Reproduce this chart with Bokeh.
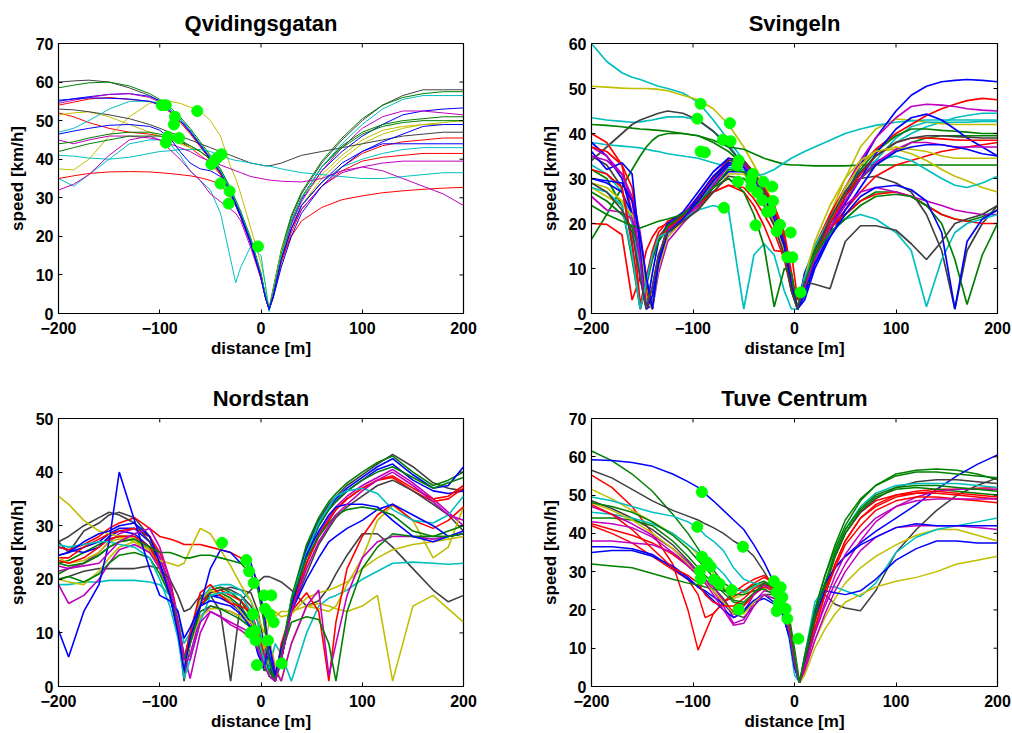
from bokeh.plotting import figure
from bokeh.models import FixedTicker, Range1d
from bokeh.layouts import column, row
from bokeh.embed import file_html
from bokeh.resources import INLINE

# ---------------- data ----------------
MATLAB = {"b": "#0000ff", "g": "#008000", "r": "#ff0000", "c": "#00bfbf",
          "m": "#bf00bf", "y": "#bfbf00", "k": "#404040"}

# Qvidingsgatan
qv_x = [-200, -185, -170, -150, -130, -110, -100, -90, -80, -70, -60, -50, -40, -30, -25, -20, -10, 0, 4, 8,
        12, 20, 30, 40, 60, 80, 100, 120, 140, 160, 180, 200]
qv_colors = ["k", "g", "b", "m", "r", "r", "y", "y", "k", "c", "c", "r", "m", "m", "g", "g", "b", "c", "b"]
qv_speed = [
    [60, 60.3, 60.5, 60, 58.5, 56.5, 55, 53, 50.5, 47.5, 44, 40.5, 37, 32, 29, 26, 19, 10, 5, 1, 6, 16, 25, 31, 39, 45, 50, 54, 56.5, 58, 58, 58],
    [58.5, 59.2, 59.8, 60, 59, 57, 55.5, 53.5, 51, 48, 44.5, 41, 37.5, 32.5, 29.5, 26.5, 19.5, 10.5, 5, 1.5, 6.5, 16.5, 25.5, 31.5, 39.5, 45.5, 50.5, 54, 56, 57, 57.5, 57.5],
    [55, 55.7, 56.2, 56.8, 57, 56.3, 55.2, 53, 50.5, 47.3, 43.8, 40.3, 36.8, 31.8, 28.8, 25.8, 18.8, 9.8, 5, 1, 5.5, 15, 23.5, 29.5, 37, 42, 46, 49, 51.5, 52.5, 53, 53.3],
    [54.5, 55.3, 56, 56.8, 57, 56, 54.8, 52.6, 50, 47, 43.5, 40, 36.5, 31.5, 28.5, 25.5, 18.5, 9.5, 4.5, 1, 5, 14.5, 23, 29, 37, 43, 48, 51, 52.5, 52.5, 52, 51.5],
    [54, 54.8, 55.6, 56, 55.5, 55, 54, 52.2, 49.6, 46.6, 43.2, 39.7, 36.2, 31.2, 28.2, 25.2, 18.2, 9.2, 4.5, 1, 4.5, 14, 22, 28, 34, 38, 41.5, 43.5, 44.5, 45, 45.5, 45.5],
    [52, 51, 49.5, 48, 47, 46.5, 46, 45.3, 44.5, 43, 41, 39, 36, 31, 28, 25, 18, 9, 4.5, 1, 4, 13, 21, 27, 33, 37, 39.5, 40.5, 41, 41.5, 41.5, 41.5],
    [37.5, 37.2, 40, 46, 51, 54.5, 55, 55, 54.5, 53.5, 52.5, 50, 46, 38, 35, 31, 22, 13, 8, 1, 6, 16, 24, 30, 36, 41, 45, 47.5, 48.5, 49, 49, 49],
    [51.5, 52, 52.3, 51, 49, 47, 46, 45, 44, 43, 42, 40, 37, 32, 29, 26, 19, 10, 5, 1, 5, 14, 22, 28, 35, 40, 44, 46.5, 48, 49, 49.5, 50],
    [53, 52.8, 52.3, 51.5, 50.5, 49, 48, 47, 46, 45, 44, 43, 42, 41, 40.5, 40, 39, 38.5, 38.3, 38.3, 38.5, 39, 40, 41, 42, 43, 44, 45, 46, 46.5, 47, 47],
    [41, 40.8, 40.3, 40, 40.5, 41.5, 42, 42.2, 42.5, 42.5, 42.5, 42, 41, 40, 39.7, 39.5, 39, 38.5, 38.3, 38.2, 38, 37.5, 37, 36.5, 36, 35.5, 35, 35, 35.5, 36, 36.5, 36.5],
    [35, 33, 36, 40, 44, 45, 45, 44, 41, 37, 34.5, 32, 26, 14, 8, 12, 17.5, 15, 8, 0.5, 5, 14, 22, 28, 34, 38, 40, 41.5, 42.5, 43, 43, 43],
    [35, 35.7, 36.3, 36.7, 36.8, 36.7, 36.5, 36.3, 36, 35.7, 35.2, 34.5, 33.5, 30, 28, 25, 18, 9, 4.5, 1, 4.5, 14, 20, 24, 27.5, 29.5, 30.5, 31.3, 31.8, 32.2, 32.5, 32.7],
    [32, 33.5, 36, 41, 45, 46, 45, 42.5, 40, 37, 34.5, 31, 29, 27, 26, 24, 17, 9, 4.5, 1, 5, 14, 22, 27, 33, 36.5, 38, 39, 39.5, 39.5, 39.5, 39.5],
    [45, 44, 45, 46, 46, 45.5, 45, 44, 43, 42, 40.5, 39.5, 38.5, 37.5, 37, 36.5, 35.5, 35, 34.8, 34.6, 34.5, 34.3, 34.2, 34.1, 35, 37, 38, 37, 35, 33, 31, 28],
    [44, 44.5, 45.5, 46.5, 47, 47, 46.5, 46, 45, 43.5, 42, 40, 37, 32, 29, 26, 19, 10, 5, 1, 5, 15, 24, 30, 38, 43.5, 47, 49, 50, 50.5, 51, 51],
    [42, 43, 44, 45, 46, 46, 46, 45.5, 44.5, 43.5, 42, 40, 37, 32, 29, 26, 19, 10, 5, 1, 5, 15, 24, 30, 38, 43, 46.5, 48.5, 49.5, 50, 50, 50],
    [46.5, 47.3, 48, 48.8, 49, 48.5, 47.5, 45.5, 42, 39, 37.5, 37, 35.5, 31, 28, 25, 18, 9.5, 4.5, 1, 4, 12, 20, 26, 33, 38, 42, 44, 44, 44, 44, 44],
    [47, 48, 50, 53, 55, 55, 54.5, 53, 50.5, 47.5, 44, 40.5, 37, 32, 29, 26, 19, 10, 5, 1, 5, 15, 24, 30, 38, 44, 49, 53, 55.5, 56.5, 56.5, 56.5],
    [55.3, 55.6, 55.9, 55.8, 55.6, 55, 54.2, 52.5, 50, 47, 43.6, 40, 36.5, 31.5, 28.5, 25.5, 18.5, 9.5, 4.5, 1, 4.5, 14, 22, 28, 34, 39, 42, 44.5, 46.5, 48.5, 49, 49],
]
qv_dot_x = [-98, -94, -85, -86, -63, -92, -94, -81, -39, -43, -46, -49, -40, -31, -32, -3]
qv_dot_y = [54, 54, 51, 49, 52.5, 45.8, 44.3, 45.5, 41.3, 40.4, 39.6, 38.7, 33.7, 31.7, 28.5, 17.4]

# Svingeln
sv_x = [-200, -185, -170, -160, -152, -146, -140, -134, -125, -110, -95, -80, -65, -50, -40, -30, -20, -10, -3,
        3, 10, 20, 35, 50, 65, 80, 100, 115, 130, 145, 158, 170, 185, 200]
sv_colors = ["c", "y", "c", "k", "g", "c", "g", "r", "r", "b", "m", "g", "y", "c", "b", "m", "r", "k",
             "g", "y", "b", "r", "m", "c", "g", "b", "k"]
sv_speed = [
    [60, 56, 53.5, 52.5, 52, 51.5, 51, 50.5, 50, 49, 47, 43, 38.5, 34, 31, 27, 22, 15, 6, 1, 7, 13, 20, 26, 31, 35, 38, 40, 41.5, 42.5, 43.5, 44, 44.5, 44.5],
    [50.5, 50.3, 50.1, 50, 50, 50, 49.9, 49.8, 49.5, 48.5, 47.5, 45.5, 42, 37, 33, 29, 24, 17, 7, 1, 6, 13, 22, 30, 37, 41, 43.2, 43, 42.5, 42.2, 42, 42, 42, 42],
    [43.5, 43, 42.7, 42.5, 42.6, 42.8, 43, 43.3, 43.7, 43.7, 43, 40.5, 37.5, 33, 30, 27, 22, 15, 6, 1, 6, 12, 19, 25, 30, 34, 39, 41.5, 42.5, 42.5, 42.5, 42.5, 42.7, 42.7],
    [34, 37, 40, 42, 43, 43.5, 44, 44.5, 45, 44.5, 43, 40.5, 37, 33, 30, 27, 22, 15, 6, 1, 7, 14, 22, 27, 30, 30.5, 29, 27, 22, 14, 1, 14, 20, 24],
    [42, 41.8, 41.5, 41.2, 41, 40.9, 40.8, 40.7, 40.5, 40, 39.5, 38.5, 37, 36.5, 35.5, 34.5, 33.8, 33.2, 33, 33, 32.9, 32.8, 32.8, 32.8, 33, 33, 33, 33, 33, 33, 33, 33, 33, 33],
    [38, 37.5, 37.2, 37, 36.8, 36.5, 36.2, 36, 35.5, 35, 34.5, 33.5, 32.5, 31.5, 30.5, 31, 32, 33.5, 34.5, 35.2, 36, 37, 38.5, 40, 41, 41.8, 42.5, 42.8, 43, 43, 43, 43, 43, 43],
    [16.5, 22, 28, 32, 35, 37, 38.5, 39.5, 40, 40, 39.5, 38, 36, 33, 30, 27, 22, 15, 6, 1, 6, 12, 20, 26, 30, 33, 36, 38, 39, 39.5, 39.5, 39.5, 39.5, 39.5],
    [20, 19.8, 17.5, 3, 8, 14, 17, 19, 20, 21, 24, 27, 28.5, 27, 24, 19.5, 14, 13.7, 13.5, 3, 6, 12, 19, 23, 27, 30.5, 33, 34, 35, 36, 36.5, 37, 37.5, 38],
    [40, 38, 33, 22, 2, 8, 14, 18, 20.5, 22, 25.5, 30, 34.5, 34, 31, 28, 24, 18, 9, 1, 8, 15, 22, 28, 33, 36.5, 40, 42, 44, 45.5, 46.5, 47.3, 47.8, 47.5],
    [38, 35, 30, 22, 8, 1, 9, 16, 20, 22.5, 27, 31.5, 34.5, 33.5, 30.5, 27, 22.5, 16, 7, 1, 5, 11, 18, 26, 33, 39, 45, 48.5, 50.5, 51.5, 51.8, 52, 51.8, 51.5],
    [37, 35, 31, 26, 18, 8, 1, 12, 19.5, 22, 26, 30.5, 34, 33.5, 31, 27.5, 23, 17, 8, 1, 7, 14, 21, 28, 34, 39, 43.5, 46, 46.5, 46.3, 46, 45.5, 45.2, 45],
    [32, 30, 24, 12, 1, 6, 12, 16, 19, 21.5, 25, 29.5, 33.5, 33, 30, 27, 22, 16, 7, 1, 7, 14, 21, 27, 32, 36, 39.5, 41, 41, 40.7, 40.5, 40.3, 40, 40],
    [29, 28, 25, 21, 14, 5, 1, 11, 19, 21, 24, 28, 32, 32, 29.5, 26, 21.5, 15, 6, 1, 8, 15, 21, 28, 33, 36, 36.5, 35.5, 34, 32, 30.5, 29.5, 28, 27],
    [33, 31, 27, 20, 9, 2, 4, 12, 18, 21, 24.5, 29, 32.5, 32, 29, 25.5, 21, 15, 6, 1, 9, 15, 21, 27, 31.5, 34, 35, 34, 32, 30, 28.5, 28, 29, 30.5],
    [30, 29, 27, 22, 12, 1, 2, 10, 17, 21, 23, 28, 31.5, 31.5, 29, 25, 20.5, 14.5, 6, 1, 9, 14, 20, 24.5, 30, 35.5, 41, 43.5, 44.3, 43, 41, 39, 37, 35],
    [26, 23, 22.5, 21, 12, 3, 1, 9, 16, 20, 23.5, 28.5, 33, 32.5, 29.5, 26, 21.5, 15.5, 7, 1, 7, 13, 20, 25, 30, 33.5, 36.5, 38, 38, 37.5, 37, 37, 37, 37],
    [37, 36, 33, 28, 16, 5, 1, 12, 19, 21.5, 25, 29.5, 34, 34, 31.5, 28, 23, 17, 8, 1, 6, 13, 20, 26, 31, 35, 38, 39, 39, 38.8, 38.6, 38.5, 38.5, 38.5],
    [35, 33, 28, 15, 1, 7, 13, 17, 19.5, 22, 25, 29.5, 34, 34, 31, 27.5, 22.5, 16, 7, 1, 7, 14, 21, 27, 31.5, 35, 38, 39, 39.5, 39.5, 39.3, 39.2, 39, 39],
    [27, 25, 22, 19, 14, 7, 1, 12, 19.5, 21.5, 24, 28, 32, 31.5, 28.5, 25, 20, 13, 5, 1, 8, 14, 19, 22, 25, 27, 27, 26, 24, 22, 21, 20.5, 21.5, 23],
    [28, 26, 24, 22, 17, 3, 1, 10, 17, 20.5, 23, 27, 31, 31, 28.5, 25, 20.5, 14, 6, 1, 8, 16, 24, 30, 34, 36, 37, 36.5, 36, 35, 34.5, 34.5, 34.5, 34.5],
    [36, 32, 33.5, 31, 14, 1, 4, 12, 18, 21, 26, 30.5, 33.5, 33, 30, 26.5, 22, 15.5, 6, 1, 3, 10, 17, 23, 28, 33, 36, 37, 37.5, 37.5, 37, 36.5, 35.5, 35],
    [32, 31, 28, 16, 1, 7, 13, 17, 18.5, 21.5, 24, 27, 28.5, 28, 25.5, 22, 18, 12, 5, 1, 6, 13, 19, 22, 25, 26.5, 27, 26, 24, 22, 21, 20.5, 20, 20],
    [35, 34, 31, 25, 12, 1, 6, 13, 18.5, 21, 24, 28.5, 33, 33, 30, 26.5, 21.5, 15, 6, 1, 6, 12, 19, 24, 27, 28, 27, 26, 25, 24, 23, 22.5, 22, 22],
    [28, 27, 24, 13, 1, 7, 13, 17, 18, 21, 23, 24, 23, 1, 13, 15.5, 13, 5, 1, 1, 8, 13, 18, 21, 22, 21, 18, 14, 1.5, 12, 18, 20, 21, 22],
    [24, 22, 20.5, 19.5, 19, 19.5, 20, 20.5, 21, 22, 24.5, 28, 30, 27, 22, 15, 1.5, 10, 9, 1, 7, 13, 18, 21, 24, 26, 26.5, 26, 24, 20, 12, 2, 13, 20],
    [30, 29.5, 29, 25, 17, 8, 1, 11, 18, 21, 25, 29.5, 33, 32.5, 29.5, 26, 21, 15, 6, 1, 4, 11, 17, 22, 26, 28, 28.5, 27.5, 25, 18, 1, 16, 21, 23],
    [29, 27, 23, 18, 8, 1, 6, 13, 18, 20.5, 23, 27, 30.5, 30, 27.5, 24, 19.5, 13, 5, 1, 7, 6.5, 5.5, 16, 19.5, 19.5, 18.5, 15.5, 12, 16, 20, 21, 22, 24],
]
sv_dot_x = [-92.5, -95.8, -63.6, -70.5, -62.9, -92.5, -88.3, -55, -56.4, -55.7, -41.2, -43.2, -42.6, -30.7,
            -21.9, -36.6, -31.7, -21.2, -26.8, -23.5, -69.5, -38.3, -14.3, -17.6, -3.8, -7.1, -2.1, 6.1]
sv_dot_y = [46.6, 43.3, 42.3, 38.6, 38.3, 36, 35.8, 34, 32.9, 29.3, 31, 29.7, 28.2, 29.3,
            28.2, 26.9, 25.2, 25, 22.6, 22.8, 23.5, 19.6, 19.7, 18.3, 18, 12.5, 12.5, 4.7]

# Nordstan
ns_x = [-200, -190, -175, -160, -150, -140, -125, -110, -100, -90, -82, -76, -70, -60, -50, -40, -30, -20, -10, -3,
        3, 8, 14, 20, 30, 45, 57, 67, 74, 85, 100, 115, 130, 150, 170, 185, 200]
ns_colors = ["k", "g", "b", "b", "g", "m", "r", "r", "k", "k", "c", "y", "y", "y", "r", "m", "g", "c",
             "b", "b", "g", "m"]
ns_speed = [
    [27, 25, 29, 30.5, 32, 32.5, 31.5, 28, 24, 19, 13, 5, 10, 16.5, 18, 18.5, 18, 17, 15, 12, 6, 3, 1, 5, 16, 26, 31, 34, 35.5, 37.5, 39.5, 41.5, 43.3, 41, 38, 37, 36.5],
    [23, 23.5, 25, 26.5, 27.5, 28, 28, 26, 22.5, 18, 12, 4, 9, 16, 18, 18.5, 17.5, 16, 13, 9, 5, 2, 1, 6, 16.5, 26.5, 31.5, 34.5, 36, 38, 40, 41.8, 43, 40, 37.5, 38.5, 40],
    [24.5, 25, 26, 27, 28.5, 29.5, 29.5, 27, 23, 18, 11, 2.5, 8, 15, 17, 17, 16, 14.5, 12, 8, 4, 6, 1, 5, 15.5, 25.5, 30.5, 33.5, 35, 37, 39, 41, 42.5, 39.5, 37, 37.5, 41],
    [26, 25.5, 25, 26, 28, 29, 28.5, 26, 22, 17, 10, 3, 9, 16, 17, 16.5, 15.5, 14, 11, 7, 3, 4, 1, 5, 15, 24.5, 30, 33, 34.5, 36.5, 38.5, 40.5, 41.5, 38.5, 36.5, 36, 36.5],
    [21, 22, 23, 24.5, 26, 27, 27.5, 25.5, 22, 17, 11, 4, 8, 15, 17, 17.5, 16.5, 15, 12, 8, 3, 3, 1, 6, 15.5, 25, 30, 33, 34.5, 36.5, 38.5, 40, 41, 39, 37, 38, 39],
    [21.5, 22, 23, 25, 27, 28.5, 29.5, 28, 24, 19, 12, 4, 6, 13, 15, 14.5, 14, 13, 12, 8, 5, 9, 2, 5, 14, 23, 28.5, 31.5, 33.5, 35.5, 37.5, 39, 40.5, 38, 35, 32.5, 30],
    [26, 25.5, 26.5, 28, 29.5, 30.5, 31.5, 29.5, 28, 27.5, 27, 26.5, 26.5, 26.5, 26, 25.5, 25, 24, 22, 19.5, 12, 5, 1, 5, 14, 23, 28, 31, 33, 35, 37, 38.5, 39.3, 37, 35, 35.5, 37.5],
    [24, 24, 26, 27.5, 28.5, 29, 29.5, 28, 25, 20, 13, 5, 9, 15, 17.5, 18, 17, 16, 14, 10, 6, 3, 1, 6, 15, 23, 28, 31, 33, 35, 37, 38.5, 39, 36.5, 34.5, 35, 37],
    [27, 28, 30, 31.5, 32.5, 32, 30.5, 27, 22.5, 17, 11, 1, 8, 16, 17.5, 18, 18.5, 18, 17.5, 14, 8, 3, 1, 5, 14, 21, 26.5, 29.5, 31.5, 33.5, 35.5, 37.5, 38.5, 36.5, 34, 32, 29],
    [20, 20.5, 21.5, 22, 22, 22, 22, 22.5, 22, 20, 17, 14, 14.5, 17, 17, 14, 1, 16, 18, 19.5, 20.5, 20.5, 20, 19.5, 18, 15, 16, 18.5, 21, 24.5, 28.5, 28.5, 26, 22, 18, 15.8, 17],
    [19, 19, 19.5, 19.5, 19.8, 19.8, 19.8, 19.5, 19, 17, 14, 8, 10, 16, 18.5, 19, 19, 18, 16, 12, 7, 3, 8, 6, 1, 10, 15, 16.5, 17, 18, 20, 21.5, 23, 23.2, 23, 22.8, 23],
    [35.5, 34, 31, 29, 28.5, 28, 27, 25, 23.5, 23, 22.5, 23, 25.5, 29.5, 28.5, 25.5, 22.5, 19, 16, 13, 10, 14, 14, 13, 13.5, 16.5, 17.5, 18, 18.5, 19.5, 22, 24, 25.5, 26.5, 27, 27.5, 28],
    [20, 19.5, 19, 21.5, 24, 26, 27, 25.5, 22, 18, 13, 4, 8, 13, 14.5, 14.5, 14, 13, 12, 10, 7, 12, 13, 14, 14, 15, 15.5, 15, 14.5, 14, 15, 17, 1, 15, 17, 14.5, 12],
    [24, 23, 23.5, 25, 27, 27.5, 27.5, 26, 22, 17, 11, 3, 8, 16, 18, 17, 16, 14, 11, 7, 4, 9, 4, 1, 8, 15, 14.5, 14, 15, 19, 24, 31, 33.8, 31, 24, 26, 33.5],
    [23.5, 23, 24, 26, 27.5, 28, 28, 26, 22.5, 18, 11, 5, 10, 17.5, 19, 17, 15.5, 15, 14, 10, 6, 2, 1, 8, 14, 17.5, 14, 1, 12, 22, 28, 32, 34, 31, 29.5, 31, 33.5],
    [19, 15.5, 17, 20, 23, 25.5, 26.5, 25, 22, 18, 12, 6, 1.5, 10, 14, 13, 12, 11, 10, 8, 5, 8, 3, 1, 8, 15, 18, 2, 8, 17, 24, 27, 28, 28, 27.5, 28, 28.5],
    [20, 20.5, 19.5, 21, 23, 24.5, 25, 24, 21, 17, 12, 5, 8, 14, 15, 14.5, 13.5, 12.5, 11, 8, 5, 3, 1, 6, 12, 13, 12.5, 8, 1, 14, 22, 26, 28.5, 28, 28, 29, 30],
    [26.5, 26, 26.5, 27, 27, 26.5, 26, 24, 20, 15, 9, 1.5, 5, 12, 17, 17.5, 17.5, 17, 14, 9, 5, 2, 1, 6, 16, 25, 30.5, 33.5, 35.5, 36.5, 37, 36, 33, 31, 30.5, 32, 35.5],
    [10.5, 5.5, 14, 19, 27, 40, 31, 22, 17, 16, 14, 9, 11, 15, 16, 15.5, 15, 13.5, 11, 6, 3.5, 8, 2, 7, 14, 20, 24, 27, 28, 29.5, 31, 33, 34, 32, 30, 28, 28.5],
    [24.5, 25, 27, 28.5, 29, 30, 30.5, 28, 23, 17, 10, 3, 9, 15, 22, 25.5, 25, 23, 23, 19, 14, 6, 1, 5, 15, 24.5, 29, 32, 33.5, 34, 34, 33.5, 31, 28, 27, 28, 29],
    [23, 22.5, 23, 24.5, 26, 27, 27.5, 26, 25, 25, 24.5, 24, 24, 24.5, 24.5, 24, 23.5, 23, 21, 18, 12, 5, 1, 6, 16, 24, 28, 30.5, 32, 33, 33.5, 33, 32, 29, 28, 28, 28.5],
    [22.5, 22, 22.5, 23, 25, 27, 28.5, 29.5, 26, 20, 12, 5, 5, 12, 14, 13, 11.5, 10.5, 9, 7, 4, 2, 1, 5, 14, 22, 27, 30, 32, 34, 36.5, 38.5, 40, 37.5, 34.5, 32, 31],
]
ns_dot_x = [-38.5, -14.5, -11.8, -7.2, 3, 10.2, 4, -7.9, 8.6, 12.5, -6.2, -10.5, -5.3, 6.9, -4, 20.4]
ns_dot_y = [26.8, 23.6, 21.5, 19.3, 17, 17, 14.5, 13.5, 13.5, 12, 10.4, 10, 8.6, 8.6, 4, 4.3]

# Tuve Centrum
tc_x = [-200, -180, -160, -140, -120, -105, -95, -88, -80, -70, -60, -50, -40, -30, -20, -12, -5, 0, 5, 10,
        20, 30, 40, 50, 65, 80, 100, 120, 140, 160, 180, 200]
tc_colors = ["g", "b", "k", "r", "r", "y", "c", "k", "c", "g", "m", "r", "m", "b", "b", "g", "y", "r", "m", "g"]
tc_speed = [
    [61.5, 59, 55.5, 51, 45, 40, 36, 33, 30.5, 27, 25.5, 25, 26.5, 27.5, 26, 23, 18, 10, 1, 7, 20, 29, 36, 42, 48.5, 52.5, 55.5, 56.5, 56.8, 56.5, 55.5, 54],
    [59.2, 59, 58.5, 57.5, 55.5, 53.5, 52, 50.3, 48.5, 46, 43.5, 41, 37, 32.5, 27, 22, 15, 7, 1, 6, 18, 26, 31, 34, 37.5, 40.5, 44, 47.5, 51.5, 55, 58, 60.5],
    [56.5, 54.5, 51.5, 48.5, 46, 44.5, 43.5, 42.5, 41.5, 40, 38, 36.5, 34, 30, 25.5, 21, 14, 6, 1, 8, 19, 24, 21.5, 20.5, 19.8, 25, 35, 41, 46, 50, 52.5, 54.5],
    [55.2, 52, 47, 40, 32, 20, 9.5, 14, 19, 22, 23.5, 25, 27, 28.5, 27, 24, 17, 8, 1, 5, 15, 24, 32, 38, 44, 47.5, 50, 51, 51.5, 51.5, 51.8, 52],
    [42, 40, 37.5, 34, 30.5, 28, 24, 18, 19, 22, 24.5, 26.5, 28, 29, 27, 24, 17, 8, 1, 6, 17, 26, 34, 40, 45.5, 48.5, 50, 50.5, 50.5, 50, 49.5, 49],
    [51.5, 49, 46, 43, 40, 37, 34.5, 32, 29.5, 26, 23, 24, 26, 27, 25, 22, 16, 8, 1, 4, 12, 18, 23, 27, 31, 34, 37, 39.5, 41, 41, 39.5, 38],
    [49.5, 48.5, 47, 45.5, 44.5, 43, 41.5, 39.5, 38, 35.5, 31, 28, 27, 26.5, 24.5, 20, 12, 3, 1, 8, 22, 26, 26, 25, 23.5, 27, 35, 39, 41, 42, 43, 44],
    [48.5, 46.5, 44, 41, 37, 33, 30, 28, 26, 23, 19, 18, 21, 24, 24, 22, 16, 8, 1, 6, 17, 26, 34, 40, 45.5, 49, 52, 53.5, 54, 54, 53.5, 53],
    [45.5, 45, 44, 42.5, 40, 37, 35, 33.5, 32, 29.5, 26, 24.5, 26, 27, 25.5, 22.5, 16, 8, 1, 7, 17, 27, 35, 41, 47, 50.5, 52.5, 53, 53, 53, 52.5, 52],
    [44, 44, 43.5, 42, 38, 34, 31, 29, 27, 24.5, 22, 21.5, 24, 27, 25.5, 23, 16, 7, 1, 6, 17, 26, 34, 40, 46, 49.5, 51.5, 52, 51.5, 51, 50.5, 50],
    [47, 45, 42.5, 39.5, 36, 32.5, 30, 28, 25, 21, 16.5, 17.5, 22, 25, 24.5, 22, 15, 7, 1, 5, 14, 21, 27, 32, 38, 43, 47, 49.5, 51, 51.5, 51.5, 51.5],
    [42.5, 41, 39.5, 37.5, 34.5, 31.5, 29, 27, 25, 22, 19.5, 21, 24, 26, 25, 22.5, 15, 6, 1, 6, 17, 25, 32, 38, 44, 47, 49.5, 50.5, 51, 50.5, 50, 49.5],
    [38, 38, 37.5, 37, 35, 32, 30, 28, 26, 22.5, 18, 19.5, 24, 26.5, 25.5, 23, 16, 7, 1, 4, 12, 19, 25, 30, 35.5, 39, 41.5, 42, 42, 42, 41.5, 41],
    [36.5, 36.5, 36, 34.5, 31, 28, 26, 25, 23.5, 21.5, 19, 20, 22.5, 24, 22, 19, 13, 5, 1, 7, 19, 27, 31, 34, 37, 39, 41.5, 42.5, 42, 42, 42, 42],
    [35, 35.5, 35.5, 34, 31.5, 28.5, 26, 24.5, 22.5, 20, 18, 19.5, 22, 23, 21.5, 19, 13, 5, 1, 6, 18, 25, 24.5, 24, 25, 28, 33, 36, 38, 38, 37.5, 37.5],
    [32, 31.5, 31, 29.5, 28, 27, 26.5, 26, 25.5, 25, 24, 24, 25, 25.5, 24, 21, 14, 6, 1, 7, 18, 27, 35, 41, 46.5, 50, 52, 52.5, 52.5, 52, 51.5, 51],
    [48, 46, 43.5, 40, 36, 32, 29, 27, 25, 22, 19, 19, 22, 24, 23, 21, 15, 7, 1, 3, 10, 15, 19, 22, 24, 26, 27.5, 28.5, 30, 32, 33, 34],
    [47.5, 45, 41, 36, 31, 29, 27, 24, 22, 21, 21, 23, 25.5, 27, 25.5, 22, 15, 7, 1, 5, 15, 24, 31, 37, 42, 46, 48.5, 49.5, 49.5, 49, 48.5, 48],
    [43, 42.5, 41.5, 39, 35, 31.5, 29, 27, 24, 20, 16, 16.5, 21, 24, 23, 21, 14, 6, 1, 5, 14, 22, 29, 34.5, 40, 44, 47, 48.5, 49, 49, 49, 49],
    [48, 47, 45.5, 43, 39.5, 36, 33, 31, 28.5, 25.5, 22.5, 22, 24.5, 27, 26, 23.5, 17, 8, 1, 8, 20, 29, 37, 43.5, 49, 52.5, 55, 56, 56, 55.5, 55, 54.5],
]
tc_dot_x = [-91.2, -95.8, -50.8, -91.2, -86, -82.7, -93.2, -92.5, -79.4, -73.8, -62, -55, -20.2, -13.6,
            -17.6, -12, -15.6, -17.6, -8.7, -7.1, 3.8]
tc_dot_y = [50.8, 41.7, 36.5, 33.9, 32.4, 31.3, 30.2, 28.1, 27.9, 26.8, 25.2, 20.1, 27.5, 25.9,
            24.6, 23.3, 21.8, 19.7, 20.3, 17.7, 12.5]

x_ticks = [-200, -100, 0, 100, 200]

FONT = "Liberation Sans"
FRAME_W = 405
FRAME_H = 270
TICK_PX = 4


def make_panel(title, xs, speeds, colors, dx, dy, ymax, lw, width, height, bl, br, bt, bb):
    p = figure(width=width, height=height, output_backend="svg", toolbar_location=None,
               x_range=Range1d(-200, 200), y_range=Range1d(0, ymax),
               min_border_left=bl, min_border_right=br, min_border_top=bt, min_border_bottom=bb,
               background_fill_color="white", border_fill_color="white")
    p.title.text = title
    p.title.text_font = FONT
    p.title.text_font_style = "bold"
    p.title.text_font_size = "22px"
    p.title.align = "center"
    p.title.text_color = "black"
    p.title.standoff = 16
    p.outline_line_color = "black"
    p.outline_line_width = 1.2
    p.xgrid.visible = False
    p.ygrid.visible = False
    for ys, c in zip(speeds, colors):
        assert len(ys) == len(xs)
        p.line(xs, ys, line_color=MATLAB[c], line_width=lw)
    p.scatter(dx, dy, size=11, fill_color="#00ff00", line_color="#00ff00")

    yt = list(range(0, ymax + 1, 10))
    for ax, ticks in ((p.xaxis[0], x_ticks), (p.yaxis[0], yt)):
        ax.ticker = FixedTicker(ticks=ticks)
        ax.major_tick_in = TICK_PX
        ax.major_tick_out = 0
        ax.minor_tick_line_color = None
        ax.axis_line_color = "black"
        ax.major_tick_line_color = "black"
        ax.major_label_text_font = FONT
        ax.major_label_text_font_style = "bold"
        ax.major_label_text_font_size = "16px"
        ax.major_label_text_color = "black"
        ax.axis_label_text_font = FONT
        ax.axis_label_text_font_style = "bold"
        ax.axis_label_text_font_size = "17px"
        ax.axis_label_text_color = "black"
    p.xaxis.axis_label = "distance [m]"
    p.yaxis.axis_label = "speed [km/h]"
    p.xaxis.major_label_standoff = 8
    p.xaxis.axis_label_standoff = 2
    p.yaxis.major_label_standoff = 5
    p.yaxis.axis_label_standoff = 6

    # inward ticks on the top and right edges of the box (MATLAB "box on")
    dy_tick = ymax * TICK_PX / FRAME_H
    dx_tick = 400 * TICK_PX / FRAME_W
    p.segment(x0=x_ticks, y0=[ymax] * len(x_ticks), x1=x_ticks, y1=[ymax - dy_tick] * len(x_ticks),
              line_color="black", line_width=1)
    p.segment(x0=[200] * len(yt), y0=yt, x1=[200 - dx_tick] * len(yt), y1=yt,
              line_color="black", line_width=1)
    return p


p1 = make_panel("Qvidingsgatan", qv_x, qv_speed, qv_colors, qv_dot_x, qv_dot_y, 70, 1.0,
                520, 366, 58, 57, 43, 53)
p2 = make_panel("Svingeln", sv_x, sv_speed, sv_colors, sv_dot_x, sv_dot_y, 60, 1.7,
                492, 366, 71, 15, 43, 53)
p3 = make_panel("Nordstan", ns_x, ns_speed, ns_colors, ns_dot_x, ns_dot_y, 50, 1.6,
                520, 367, 58, 57, 52, 45)
p4 = make_panel("Tuve Centrum", tc_x, tc_speed, tc_colors, tc_dot_x, tc_dot_y, 70, 1.5,
                492, 367, 71, 15, 52, 45)

layout = column(row(p1, p2), row(p3, p4))
open("out.html", "w").write(file_html(layout, INLINE))
